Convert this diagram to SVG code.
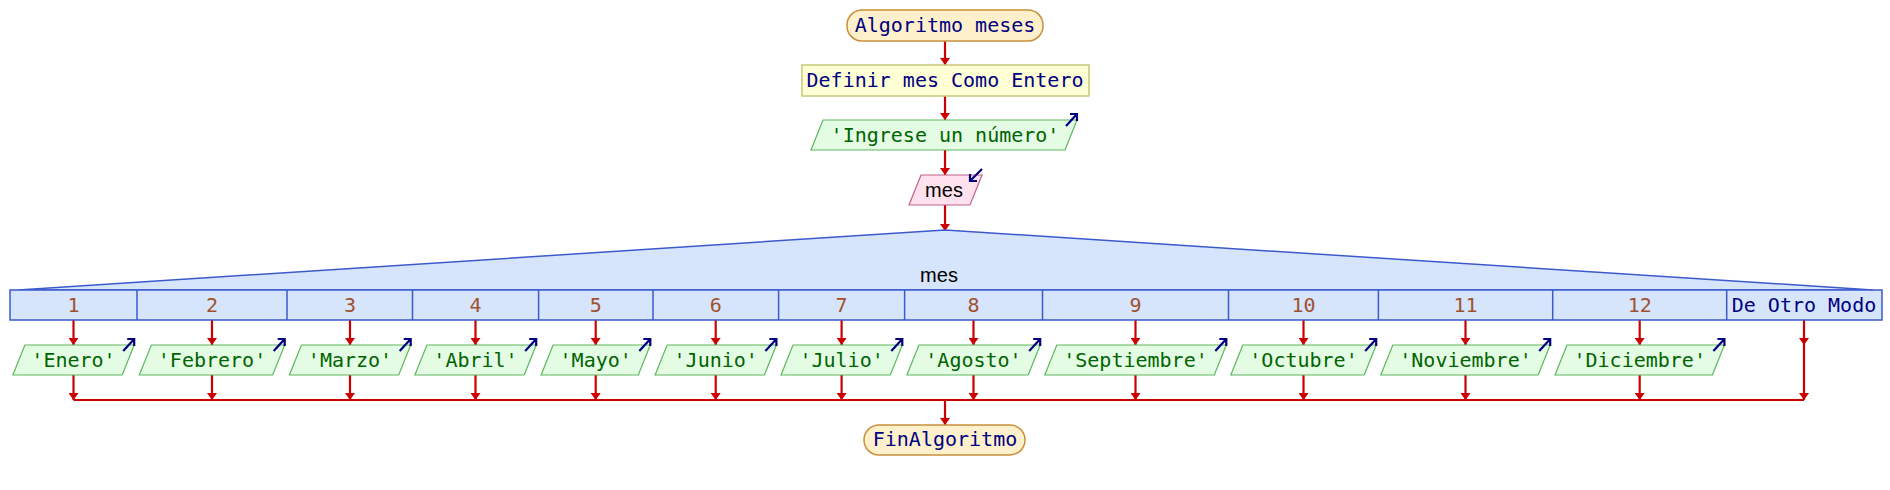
<svg xmlns="http://www.w3.org/2000/svg" width="1890" height="490" viewBox="0 0 1890 490">
<style>
.t{font-family:"DejaVu Sans Mono","Liberation Mono",monospace;font-size:20px;text-anchor:middle}
.v{font-family:"Liberation Sans",Arial,sans-serif;font-size:20px;text-anchor:middle;fill:#000}
.term{fill:#fff0cc;stroke:#c8903c;stroke-width:1.5}
.def{fill:#ffffd6;stroke:#c8c878;stroke-width:1.5}
.out{fill:#e4fce4;stroke:#5cb85c;stroke-width:1.2}
.inp{fill:#ffe2ee;stroke:#c0608a;stroke-width:1.2}
.sw{fill:#d6e4fc;stroke:#3c5acd;stroke-width:1.5}
.nv{fill:#000080}
.gr{fill:#006400}
.br{fill:#a0522d}
.ic{fill:none;stroke:#000080;stroke-width:2.2}
.c{fill:none;stroke:#cc0000;stroke-width:2.2}
.ca{fill:none;stroke:#cc0000;stroke-width:2.2;marker-end:url(#ah)}
</style>
<defs>
<marker id="ah" markerUnits="userSpaceOnUse" viewBox="0 0 7 10" refX="7" refY="5" markerWidth="7" markerHeight="10" orient="auto">
<path d="M0,0 L7,5 L0,10 z" fill="#cc0000"/>
</marker>
</defs>
<rect width="1890" height="490" fill="#fff"/>
<g id="connectors">
<line class="ca" x1="945" y1="41" x2="945" y2="65"/>
<line class="ca" x1="945" y1="96" x2="945" y2="120"/>
<line class="ca" x1="945" y1="150" x2="945" y2="175"/>
<line class="ca" x1="945" y1="205" x2="945" y2="231"/>
<line class="ca" x1="73.5" y1="320" x2="73.5" y2="345"/>
<line class="ca" x1="73.5" y1="375" x2="73.5" y2="400"/>
<line class="ca" x1="212" y1="320" x2="212" y2="345"/>
<line class="ca" x1="212" y1="375" x2="212" y2="400"/>
<line class="ca" x1="350" y1="320" x2="350" y2="345"/>
<line class="ca" x1="350" y1="375" x2="350" y2="400"/>
<line class="ca" x1="475.5" y1="320" x2="475.5" y2="345"/>
<line class="ca" x1="475.5" y1="375" x2="475.5" y2="400"/>
<line class="ca" x1="595.7" y1="320" x2="595.7" y2="345"/>
<line class="ca" x1="595.7" y1="375" x2="595.7" y2="400"/>
<line class="ca" x1="715.7" y1="320" x2="715.7" y2="345"/>
<line class="ca" x1="715.7" y1="375" x2="715.7" y2="400"/>
<line class="ca" x1="841.6" y1="320" x2="841.6" y2="345"/>
<line class="ca" x1="841.6" y1="375" x2="841.6" y2="400"/>
<line class="ca" x1="973.5" y1="320" x2="973.5" y2="345"/>
<line class="ca" x1="973.5" y1="375" x2="973.5" y2="400"/>
<line class="ca" x1="1135.5" y1="320" x2="1135.5" y2="345"/>
<line class="ca" x1="1135.5" y1="375" x2="1135.5" y2="400"/>
<line class="ca" x1="1303.5" y1="320" x2="1303.5" y2="345"/>
<line class="ca" x1="1303.5" y1="375" x2="1303.5" y2="400"/>
<line class="ca" x1="1465.5" y1="320" x2="1465.5" y2="345"/>
<line class="ca" x1="1465.5" y1="375" x2="1465.5" y2="400"/>
<line class="ca" x1="1639.7" y1="320" x2="1639.7" y2="345"/>
<line class="ca" x1="1639.7" y1="375" x2="1639.7" y2="400"/>
<line class="ca" x1="1804" y1="320" x2="1804" y2="345"/>
<line class="ca" x1="1804" y1="345" x2="1804" y2="400"/>
<line class="c" x1="73.5" y1="400" x2="1804" y2="400"/>
<line class="ca" x1="945" y1="400" x2="945" y2="425"/>
</g>
<g id="inicio">
<rect class="term" x="847" y="10" width="196" height="31" rx="15"/>
<text class="t nv" x="945" y="31.5">Algoritmo meses</text>
</g>
<g id="definir">
<rect class="def" x="802" y="65" width="287" height="31"/>
<text class="t nv" x="945" y="86.5">Definir mes Como Entero</text>
</g>
<g id="escribir">
<polygon class="out" points="823,120 1077,120 1065,150 811,150"/>
<text class="t gr" x="945" y="141.5">'Ingrese un número'</text>
<path class="ic" d="M1066,126 L1077,114 M1070,114 L1077,114 L1077,121"/>
</g>
<g id="leer">
<polygon class="inp" points="921,175 982,175 970,205 909,205"/>
<text class="v" x="944" y="197">mes</text>
<path class="ic" d="M982,169 L970,181 M970,174 L970,181 L977,181"/>
</g>
<g id="segun">
<polygon class="sw" points="18,290 945,230 1873,290"/>
<rect class="sw" x="10" y="290" width="1872" height="30"/>
<text class="v" x="939" y="282">mes</text>
<g stroke="#3c5acd" stroke-width="1.5">
<line x1="137" y1="290" x2="137" y2="320"/>
<line x1="287" y1="290" x2="287" y2="320"/>
<line x1="412.5" y1="290" x2="412.5" y2="320"/>
<line x1="538.6" y1="290" x2="538.6" y2="320"/>
<line x1="653" y1="290" x2="653" y2="320"/>
<line x1="778.6" y1="290" x2="778.6" y2="320"/>
<line x1="904.6" y1="290" x2="904.6" y2="320"/>
<line x1="1042.5" y1="290" x2="1042.5" y2="320"/>
<line x1="1228.5" y1="290" x2="1228.5" y2="320"/>
<line x1="1378.4" y1="290" x2="1378.4" y2="320"/>
<line x1="1552.7" y1="290" x2="1552.7" y2="320"/>
<line x1="1726.7" y1="290" x2="1726.7" y2="320"/>
</g>
<text class="t br" x="73.5" y="312">1</text>
<text class="t br" x="212" y="312">2</text>
<text class="t br" x="350" y="312">3</text>
<text class="t br" x="475.5" y="312">4</text>
<text class="t br" x="595.7" y="312">5</text>
<text class="t br" x="715.7" y="312">6</text>
<text class="t br" x="841.6" y="312">7</text>
<text class="t br" x="973.5" y="312">8</text>
<text class="t br" x="1135.5" y="312">9</text>
<text class="t br" x="1303.5" y="312">10</text>
<text class="t br" x="1465.5" y="312">11</text>
<text class="t br" x="1639.7" y="312">12</text>
<text class="t nv" x="1804" y="312">De Otro Modo</text>
</g>
<g id="out1">
<polygon class="out" points="24.9,345 134.2,345 122.2,375 12.9,375"/>
<text class="t gr" x="73.5" y="367">'Enero'</text>
<path class="ic" d="M123.2,351 L134.2,339 M127.2,339 L134.2,339 L134.2,346"/>
</g>
<g id="out2">
<polygon class="out" points="151.3,345 284.7,345 272.7,375 139.3,375"/>
<text class="t gr" x="212" y="367">'Febrero'</text>
<path class="ic" d="M273.7,351 L284.7,339 M277.7,339 L284.7,339 L284.7,346"/>
</g>
<g id="out3">
<polygon class="out" points="301.4,345 410.7,345 398.7,375 289.4,375"/>
<text class="t gr" x="350" y="367">'Marzo'</text>
<path class="ic" d="M399.7,351 L410.7,339 M403.7,339 L410.7,339 L410.7,346"/>
</g>
<g id="out4">
<polygon class="out" points="426.9,345 536.2,345 524.2,375 414.9,375"/>
<text class="t gr" x="475.5" y="367">'Abril'</text>
<path class="ic" d="M525.2,351 L536.2,339 M529.2,339 L536.2,339 L536.2,346"/>
</g>
<g id="out5">
<polygon class="out" points="553.1,345 650.3,345 638.3,375 541.1,375"/>
<text class="t gr" x="595.7" y="367">'Mayo'</text>
<path class="ic" d="M639.3,351 L650.3,339 M643.3,339 L650.3,339 L650.3,346"/>
</g>
<g id="out6">
<polygon class="out" points="667.1,345 776.4,345 764.4,375 655.1,375"/>
<text class="t gr" x="715.7" y="367">'Junio'</text>
<path class="ic" d="M765.4,351 L776.4,339 M769.4,339 L776.4,339 L776.4,346"/>
</g>
<g id="out7">
<polygon class="out" points="793,345 902.3,345 890.3,375 781,375"/>
<text class="t gr" x="841.6" y="367">'Julio'</text>
<path class="ic" d="M891.3,351 L902.3,339 M895.3,339 L902.3,339 L902.3,346"/>
</g>
<g id="out8">
<polygon class="out" points="918.9,345 1040.2,345 1028.2,375 906.9,375"/>
<text class="t gr" x="973.5" y="367">'Agosto'</text>
<path class="ic" d="M1029.2,351 L1040.2,339 M1033.2,339 L1040.2,339 L1040.2,346"/>
</g>
<g id="out9">
<polygon class="out" points="1056.8,345 1226.3,345 1214.3,375 1044.8,375"/>
<text class="t gr" x="1135.5" y="367">'Septiembre'</text>
<path class="ic" d="M1215.3,351 L1226.3,339 M1219.3,339 L1226.3,339 L1226.3,346"/>
</g>
<g id="out10">
<polygon class="out" points="1242.8,345 1376.2,345 1364.2,375 1230.8,375"/>
<text class="t gr" x="1303.5" y="367">'Octubre'</text>
<path class="ic" d="M1365.2,351 L1376.2,339 M1369.2,339 L1376.2,339 L1376.2,346"/>
</g>
<g id="out11">
<polygon class="out" points="1392.8,345 1550.2,345 1538.2,375 1380.8,375"/>
<text class="t gr" x="1465.5" y="367">'Noviembre'</text>
<path class="ic" d="M1539.2,351 L1550.2,339 M1543.2,339 L1550.2,339 L1550.2,346"/>
</g>
<g id="out12">
<polygon class="out" points="1567,345 1724.4,345 1712.4,375 1555,375"/>
<text class="t gr" x="1639.7" y="367">'Diciembre'</text>
<path class="ic" d="M1713.4,351 L1724.4,339 M1717.4,339 L1724.4,339 L1724.4,346"/>
</g>
<g id="fin">
<rect class="term" x="864" y="425" width="161" height="30" rx="15"/>
<text class="t nv" x="945" y="446">FinAlgoritmo</text>
</g>
</svg>
